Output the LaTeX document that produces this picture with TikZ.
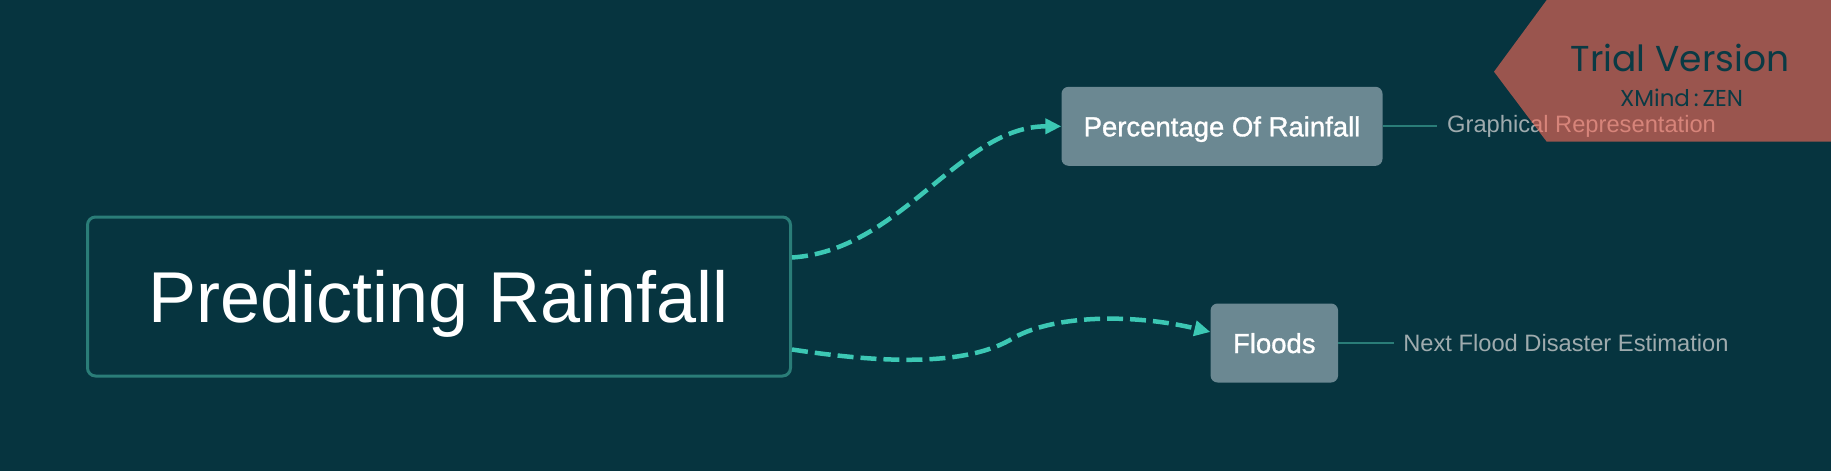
\documentclass[tikz,border=0pt]{standalone}
\usepackage{fontspec}
\setmainfont{Liberation Sans}
\newfontfamily\topicfont[FakeBold=1.2]{Liberation Sans}
\newfontfamily\bannerfont{Poppins}
\usetikzlibrary{arrows.meta,calc}
\definecolor{bgteal}{HTML}{06343F}
\definecolor{rootline}{HTML}{2A7D78}
\definecolor{topicgray}{HTML}{6B8892}
\definecolor{linkgreen}{HTML}{3CC8B4}
\definecolor{leafgray}{HTML}{9FABAE}
\definecolor{trialred}{HTML}{FD6B58}
\definecolor{trialtext}{HTML}{0A3A44}
\tikzset{
  root/.style={draw=rootline, line width=3pt, rounded corners=8pt, fill=bgteal,
    minimum width=703pt, minimum height=159pt, inner sep=0pt, text=white,
    font=\fontsize{72}{80}\selectfont, text height=52pt, text depth=0pt},
  topic/.style={fill=topicgray, rounded corners=7pt, minimum height=79pt,
    inner sep=0pt, text=white, font=\topicfont\fontsize{27.5}{32}\selectfont,
    text height=20pt, text depth=0pt},
  leaf/.style={anchor=west, inner xsep=10pt, inner ysep=0pt, text=leafgray,
    font=\fontsize{23.7}{28}\selectfont},
  link/.style={linkgreen, line width=4.5pt, dash pattern=on 16pt off 7pt,
    -{Triangle[length=16pt,width=15pt]}},
  twig/.style={rootline, line width=2pt},
  trial/.style={anchor=base, inner sep=0pt, text=trialtext},
}
\begin{document}
\begin{tikzpicture}[x=1pt,y=-1pt]

    \fill[bgteal] (0,0) rectangle (1831,471);
    \useasboundingbox (0,0) rectangle (1831,471);

    \node[root] (rain) at (439,296.5) {Predicting Rainfall};
    \node[topic, minimum width=321pt] (pct) at (1222,126.3) {Percentage Of Rainfall};
    \node[topic, minimum width=127.5pt] (flood) at (1274.3,343) {Floods};
    \node[leaf] (graph) at (1437,126.3) {Graphical Representation};
    \node[leaf, inner xsep=9.5pt] (estim) at (1393.6,343) {Next Flood Disaster Estimation};

    \draw[twig] (pct.east) -- (graph.west);
    \draw[twig] (flood.east) -- (estim.west);

    \draw[link] ([yshift=39pt]rain.east) .. controls +(109,-7) and +(-101,0) .. (pct.west);
    \draw[link] ([yshift=-53pt]rain.east) .. controls +(79,12) and +(-50,28) .. (1010,340)
        .. controls +(40,-25) and +(-80,-19) .. ([yshift=11pt]flood.west);

    \fill[trialred, fill opacity=0.6] (1494,71.7) -- (1546.7,0) -- (1831,0)
        -- (1831,141.7) -- (1546.7,141.7) -- cycle;
    \node[trial, font=\bannerfont\fontsize{36}{42}\selectfont] (ver) at (1680,71.7) {Trial Version};
    \node[trial, font=\bannerfont\fontsize{23}{27}\selectfont] (zen) at (1681.5,106.7) {XMind\,:\,ZEN};
\end{tikzpicture}
\end{document}
